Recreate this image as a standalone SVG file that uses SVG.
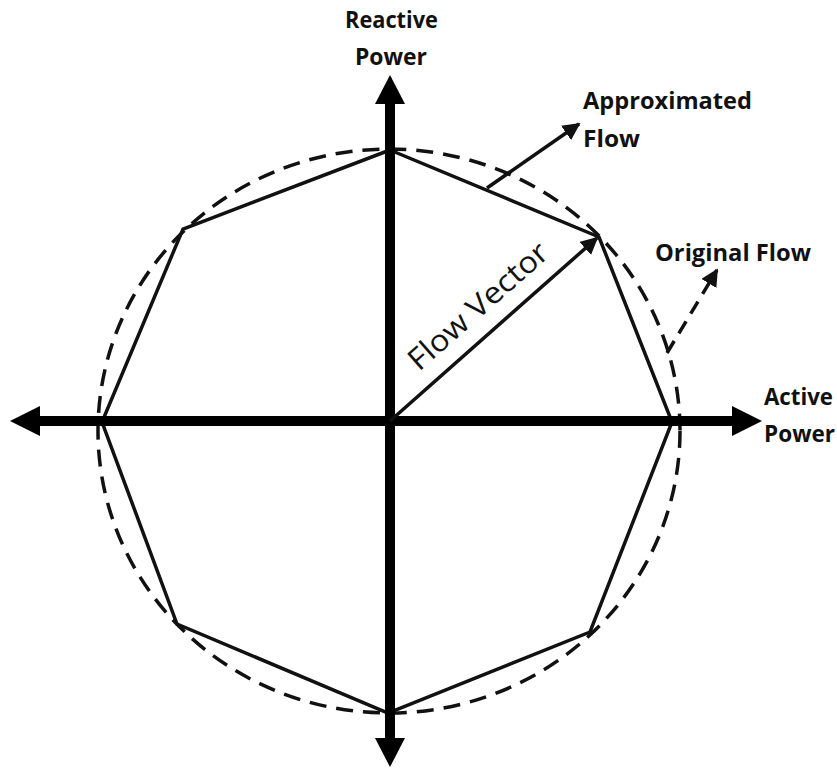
<svg xmlns="http://www.w3.org/2000/svg" width="837" height="768" viewBox="0 0 837 768">
  <style>
    .label { font-family: "Open Sans", "Noto Sans", "Liberation Sans", sans-serif; font-weight: bold; font-size: 23px; fill: #111; }
    .vlabel { font-family: "Open Sans", "Noto Sans", "Liberation Sans", sans-serif; font-size: 30px; fill: #111; }
    .circle { fill: none; stroke: #111; stroke-width: 3.5; stroke-dasharray: 17 10; }
    .poly { fill: none; stroke: #111; stroke-width: 3.5; stroke-linejoin: miter; }
    .axis { stroke: #000; stroke-width: 10; fill: none; }
    .head { fill: #000; }
    .thin { stroke: #111; stroke-width: 3.5; fill: none; }
    .dashed { stroke: #111; stroke-width: 3.5; fill: none; stroke-dasharray: 14 9; }
  </style>
  <defs>
    <marker id="arrow" viewBox="0 0 10 10" refX="9" refY="5" markerWidth="5" markerHeight="5" markerUnits="strokeWidth" orient="auto">
      <path d="M0,0 L10,5 L0,10 Z" fill="#111"/>
    </marker>
  </defs>
  <rect width="837" height="768" fill="#fff"/>

  <!-- original flow boundary -->
  <g id="original-flow-circle">
    <ellipse class="circle" cx="389" cy="431" rx="291" ry="282"/>
  </g>

  <!-- approximated flow polygon -->
  <g id="approximated-polygon">
    <polygon class="poly" points="390,150 599,237 672,422 590,632 388,713 177,624 102,422 183,229"/>
  </g>

  <!-- axes -->
  <g id="axes">
    <line class="axis" x1="40" y1="421" x2="735" y2="421"/>
    <line class="axis" x1="390" y1="100" x2="390" y2="740"/>
    <polygon class="head" points="10,421 40,406 40,436"/>
    <polygon class="head" points="762,421 732,406 732,436"/>
    <polygon class="head" points="390,75 375,104 405,104"/>
    <polygon class="head" points="390,767 375,738 405,738"/>
  </g>

  <!-- connectors -->
  <g id="connectors">
    <line class="thin" x1="390" y1="421" x2="597" y2="238" marker-end="url(#arrow)"/>
    <line class="thin" x1="487" y1="188" x2="579" y2="124" marker-end="url(#arrow)"/>
    <line class="dashed" x1="667" y1="353" x2="717" y2="270" marker-end="url(#arrow)"/>
  </g>

  <g id="label-reactive">
    <text class="label" x="345" y="28" textLength="93" lengthAdjust="spacingAndGlyphs">Reactive</text>
    <text class="label" x="355" y="65" textLength="72" lengthAdjust="spacingAndGlyphs">Power</text>
  </g>
  <g id="label-active">
    <text class="label" x="764" y="405" textLength="69" lengthAdjust="spacingAndGlyphs">Active</text>
    <text class="label" x="764" y="442" textLength="71" lengthAdjust="spacingAndGlyphs">Power</text>
  </g>
  <g id="label-approximated">
    <text class="label" x="583" y="109" textLength="169" lengthAdjust="spacingAndGlyphs">Approximated</text>
    <text class="label" x="583" y="147" textLength="57" lengthAdjust="spacingAndGlyphs">Flow</text>
  </g>
  <g id="label-original">
    <text class="label" x="655" y="261" textLength="156" lengthAdjust="spacingAndGlyphs">Original Flow</text>
  </g>
  <g id="label-vector">
    <text class="vlabel" transform="translate(419,372) rotate(-41.5)" textLength="176" lengthAdjust="spacingAndGlyphs">Flow Vector</text>
  </g>
</svg>
